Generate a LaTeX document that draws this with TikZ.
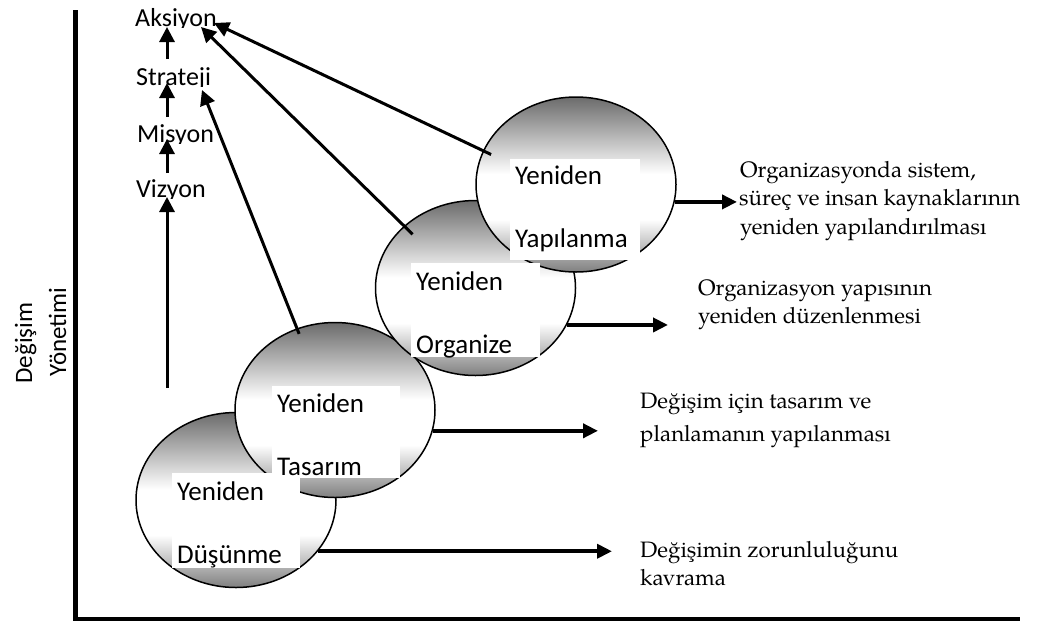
\documentclass[tikz,border=0pt]{standalone}
\usepackage{fontspec}
\setmainfont{Carlito}
\newfontfamily\pal{TeX Gyre Pagella}
\usetikzlibrary{shapes.geometric,arrows.meta,calc}
\pgfdeclareverticalshading{ellshade}{100bp}{color(0bp)=(black!50); color(25bp)=(black!50); color(40bp)=(white); color(53bp)=(white); color(75bp)=(black!58); color(100bp)=(black!58)}
\begin{document}
\begin{tikzpicture}[x=1pt,y=-1pt,
  ell/.style={ellipse, draw=black, line width=1.5pt, shade, shading=ellshade, minimum width=200pt, minimum height=175pt, inner sep=0pt},
  wbox/.style={fill=white, draw=none, anchor=north west, inner sep=0pt},
  boxtxt/.style={anchor=base west, inner sep=0pt, font=\fontsize{27}{32}\selectfont},
  lbl/.style={anchor=base west, inner sep=0pt, font=\fontsize{26}{31}\selectfont},
  axlbl/.style={rotate=90, anchor=base, inner sep=0pt, font=\fontsize{25}{30}\selectfont},
  rtxt/.style={anchor=base west, inner sep=0pt, font=\pal\fontsize{22.3}{27}\selectfont},
  arr/.style={-{Triangle[length=15pt,width=15pt]}, line width=3pt},
  harr/.style={-{Triangle[length=15pt,width=14pt]}, line width=4pt},
]
\useasboundingbox (0,0) rectangle (1038,625);
\fill[white] (0,0) rectangle (1038,625);

% axes
\draw[line width=4.5pt] (75.5,10) -- (75.5,619) -- (1020,619);
\node[axlbl] (ax1) at (32,343) {Değişim};
\node[axlbl] (ax2) at (66,332) {Yönetimi};

% ellipses (back to front)
\node[ell] (dus) at (236,500) {};
\node[ell] (tas) at (335,410) {};
\node[ell] (org) at (475.5,288) {};
\node[ell] (yap) at (576,184.5) {};

% white text boxes
\node[wbox, minimum width=128pt, minimum height=95pt] (dusbox) at (172,473) {};
\node[wbox, minimum width=128pt, minimum height=92pt] (tasbox) at (272,386) {};
\node[wbox, minimum width=129pt, minimum height=94pt] (orgbox) at (411,263) {};
\node[wbox, minimum width=130pt, minimum height=101pt] (yapbox) at (510,159) {};

\node[boxtxt] (dus1) at (177,500) {Yeniden};
\node[boxtxt] (dus2) at (177,563) {Düşünme};
\node[boxtxt] (tas1) at (277,412) {Yeniden};
\node[boxtxt] (tas2) at (277,475) {Tasarım};
\node[boxtxt] (org1) at (416,290) {Yeniden};
\node[boxtxt] (org2) at (416,353) {Organize};
\node[boxtxt] (yap1) at (515,184) {Yeniden};
\node[boxtxt] (yap2) at (515,247) {Yapılanma};

% left column labels
\node[lbl] (aks) at (135,26) {Aksiyon};
\node[lbl] (str) at (136,85) {Strateji};
\node[lbl] (mis) at (137,142) {Misyon};
\node[lbl] (viz) at (136,197) {Vizyon};
% descenders are cut off in the reference
\fill[white] (130,28) rectangle (222,37);
\fill[white] (130,87) rectangle (222,96);
\fill[white] (130,144) rectangle (222,153);
\fill[white] (130,199) rectangle (222,208);

% right texts
\node[rtxt] (t1a) at (740,177) {Organizasyonda sistem,};
\node[rtxt] (t1b) at (739,205) {süreç ve insan kaynaklarının};
\node[rtxt] (t1c) at (740,234) {yeniden yapılandırılması};
\node[rtxt] (t2a) at (698,295) {Organizasyon yapısının};
\node[rtxt] (t2b) at (698,323) {yeniden düzenlenmesi};
\node[rtxt] (t3a) at (640,408) {Değişim için tasarım ve};
\node[rtxt] (t3b) at (640,441) {planlamanın yapılanması};
\node[rtxt] (t4a) at (640,557) {Değişimin zorunluluğunu};
\node[rtxt] (t4b) at (640,585) {kavrama};

% vertical arrows
\coordinate (vx) at (167,0);
\coordinate (vbot) at (167,388);
\draw[arr] (vbot) -- (viz.base -| vx);
\draw[arr] ($(viz.base -| vx)+(0,-24)$) -- ($(mis.base -| vx)+(0,-3)$);
\draw[arr] ($(mis.base -| vx)+(0,-25)$) -- ($(str.base -| vx)+(0,-2)$);
\draw[arr] ($(str.base -| vx)+(0,-26)$) -- ($(aks.base -| vx)+(0,1)$);

% diagonal arrows
\draw[arr, shorten <=-6pt] (tas.115) -- ($(str.base west)+(66,5)$);
\draw[arr, shorten <=-12pt] (org.139) -- ($(aks.base west)+(66,1)$);
\draw[arr, shorten <=-9pt] (yap.160) -- ($(aks.base west)+(79,-3)$);

% horizontal arrows
\coordinate (e1) at (737,0);
\coordinate (e2) at (668,0);
\coordinate (e3) at (598,0);
\coordinate (e4) at (612,0);
\draw[harr] (yap.-10) -- (yap.-10 -| e1);
\draw[harr] (org.-22) -- (org.-22 -| e2);
\draw[harr] (tas.-12) -- (tas.-12 -| e3);
\draw[harr] (dus.-32) -- (dus.-32 -| e4);
\end{tikzpicture}
\end{document}
